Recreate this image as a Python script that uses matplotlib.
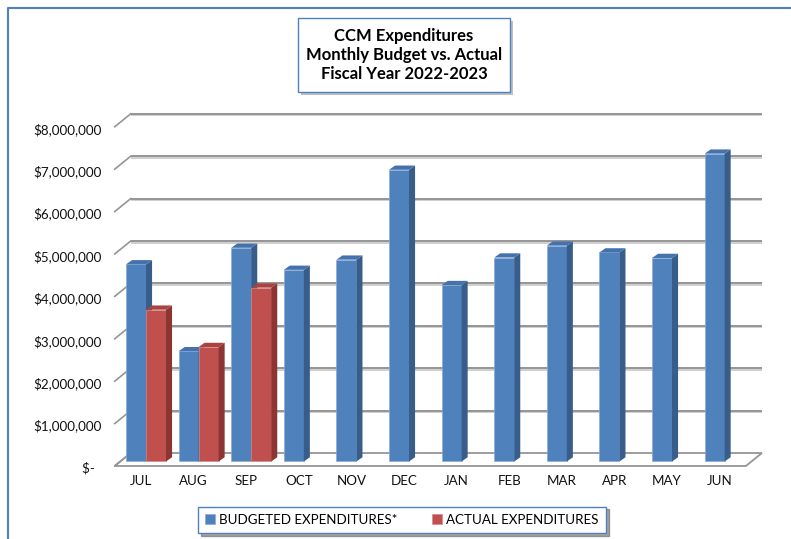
import numpy as np
import matplotlib
matplotlib.use("Agg")
from matplotlib import pyplot as plt
from matplotlib.patches import Polygon, Rectangle
from matplotlib.lines import Line2D
import matplotlib.patheffects as pe

plt.rcParams['font.family'] = ['Lato', 'DejaVu Sans']

# data (dollars)
months = ["JUL", "AUG", "SEP", "OCT", "NOV", "DEC", "JAN", "FEB", "MAR", "APR", "MAY", "JUN"]
budget = [4.65e6, 2.60e6, 5.04e6, 4.52e6, 4.76e6, 6.88e6, 4.16e6, 4.81e6, 5.09e6, 4.93e6, 4.80e6, 7.26e6]
actual = [3.58e6, 2.70e6, 4.10e6, np.nan, np.nan, np.nan, np.nan, np.nan, np.nan, np.nan, np.nan, np.nan]
ticks = [0, 1e6, 2e6, 3e6, 4e6, 5e6, 6e6, 7e6, 8e6]
tick_labels = ["$-  ", "$1,000,000", "$2,000,000", "$3,000,000", "$4,000,000",
               "$5,000,000", "$6,000,000", "$7,000,000", "$8,000,000"]

# fake 3d parameters
wall_dx, wall_dy = 0.304, 0.306e6   # depth of floor / back wall
front_y = -0.106e6                  # front edge of floor
bar_dx, bar_dy = 0.115, 0.10e6      # depth of each bar
bw = 0.38

blue = ("#4F81BD", "#4372AC", "#385D8A")   # front, top, side
red = ("#C0504D", "#A9433F", "#8C3533")

fig = plt.figure(figsize=(7.91, 5.39), dpi=100)
ax = fig.add_axes([0, 0, 1, 1])
ax.set_xlim(-2.681, 12.357)
ax.set_ylim(-1.828e6, 10.884e6)
ax.axis("off")

x = np.arange(len(months))
x0, x1 = -0.5, len(months) - 0.5
shadow = [pe.SimpleLineShadow(offset=(0, -1.2), shadow_color="#b0b0b0", alpha=0.6), pe.Normal()]

# floor
floor = Polygon([(x0, front_y), (x1, front_y), (x1 + wall_dx, front_y + wall_dy),
                 (x0 + wall_dx, front_y + wall_dy)], closed=True, fc="white", ec="#959595", lw=1.3,
                zorder=1)
ax.add_patch(floor)

# back wall grid lines + left diagonals
for t in ticks:
    yb = t + front_y + wall_dy
    if t > 0:
        ax.plot([x0 + wall_dx, x1 + wall_dx], [yb, yb], color="#959595", lw=1.4, zorder=1,
                path_effects=shadow, solid_capstyle="butt")
    ax.plot([x0, x0 + wall_dx], [t + front_y, yb], color="#959595", lw=1.2, zorder=1)

for t, lab in zip(ticks, tick_labels):
    ax.text(-0.74, t + front_y - 0.06e6, lab, ha="right", va="center", fontsize=9.6, color="#111111")

for xi, m in zip(x, months):
    ax.text(xi, -0.46e6, m, ha="center", va="center", fontsize=9.6, color="#111111")

# bars
def draw_bars(left, heights, cols, z, label):
    bars = ax.bar(left, heights, width=bw, align="edge", color=cols[0], edgecolor="#8aaad6" if cols is blue else "#d88a88",
                  lw=0.5, zorder=z, label=label)
    for l, h in zip(left, heights):
        if np.isnan(h):
            continue
        r = l + bw
        side = Polygon([(r, 0), (r + bar_dx, bar_dy), (r + bar_dx, h + bar_dy), (r, h)],
                       closed=True, fc=cols[2], ec="none", zorder=z)
        top = Polygon([(l, h), (l + bar_dx, h + bar_dy), (r + bar_dx, h + bar_dy), (r, h)],
                      closed=True, fc=cols[1], ec="none", zorder=z)
        ax.add_patch(side)
        ax.add_patch(top)
    return bars

b1 = draw_bars(x - 0.285, budget, blue, 3, "BUDGETED EXPENDITURES*")
b2 = draw_bars(x + 0.095, actual, red, 4, "ACTUAL EXPENDITURES")

# title box
fig.patches.append(Rectangle((298 / 791, 1 - 92 / 539), 212 / 791, 74 / 539, transform=fig.transFigure,
                             fc="white", ec="#4F81BD", lw=1.0,
                             path_effects=[pe.SimplePatchShadow(offset=(2.5, -2.5), shadow_rgbFace="#808080", alpha=0.5),
                                           pe.Normal()]))
fig.text(404 / 791, 1 - 55 / 539, "CCM Expenditures\nMonthly Budget vs. Actual\nFiscal Year 2022-2023",
         ha="center", va="center", fontsize=12, fontweight="bold", linespacing=1.25, color="black")

# legend
leg = fig.legend(handles=[b1, b2], loc="center", bbox_to_anchor=(402 / 791, 1 - 520 / 539), ncol=2,
                 fontsize=9.6, frameon=True, fancybox=False, shadow=True, edgecolor="#4F81BD",
                 handlelength=0.75, handleheight=0.75, handletextpad=0.3, columnspacing=2.6,
                 borderpad=0.55, borderaxespad=0)
leg.get_frame().set_linewidth(1.0)

# outer chart border
fig.add_artist(Line2D([8 / 791, 8 / 791, 1], [0, 1 - 8 / 539, 1 - 8 / 539], transform=fig.transFigure,
                      color="#4F81BD", lw=1.5))

fig.savefig("out.png", dpi=100)
